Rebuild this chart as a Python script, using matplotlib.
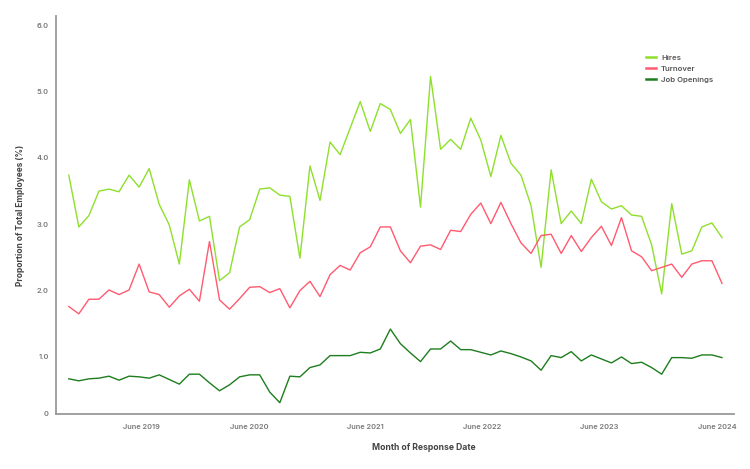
import numpy as np
import matplotlib
matplotlib.use("Agg")
import matplotlib.pyplot as plt

# monthly survey series (66 months)
hires = [3.74, 2.96, 3.13, 3.50, 3.53, 3.49, 3.74, 3.56, 3.84, 3.30,
         2.99, 2.40, 3.67, 3.05, 3.12, 2.15, 2.27, 2.96, 3.07, 3.53,
         3.55, 3.44, 3.42, 2.49, 3.88, 3.36, 4.24, 4.05, 4.45, 4.85,
         4.40, 4.82, 4.73, 4.37, 4.58, 3.26, 5.23, 4.13, 4.28, 4.13,
         4.60, 4.27, 3.72, 4.34, 3.92, 3.74, 3.28, 2.35, 3.82, 3.01,
         3.20, 3.01, 3.68, 3.34, 3.23, 3.28, 3.14, 3.12, 2.69, 1.95,
         3.31, 2.55, 2.60, 2.96, 3.02, 2.80]
turnover = [1.76, 1.65, 1.87, 1.87, 2.01, 1.94, 2.01, 2.40, 1.98, 1.94,
            1.75, 1.92, 2.02, 1.84, 2.74, 1.86, 1.72, 1.88, 2.05, 2.06,
            1.97, 2.03, 1.74, 2.00, 2.14, 1.91, 2.24, 2.38, 2.31, 2.57,
            2.66, 2.96, 2.96, 2.60, 2.42, 2.67, 2.69, 2.62, 2.91, 2.89,
            3.15, 3.32, 3.01, 3.33, 3.01, 2.72, 2.56, 2.83, 2.85, 2.56,
            2.83, 2.59, 2.80, 2.97, 2.68, 3.10, 2.60, 2.51, 2.30, 2.35,
            2.40, 2.20, 2.40, 2.45, 2.45, 2.11]
job_openings = [0.67, 0.64, 0.67, 0.68, 0.71, 0.65, 0.71, 0.70, 0.68, 0.73,
                0.66, 0.59, 0.74, 0.74, 0.61, 0.49, 0.58, 0.70, 0.73, 0.73,
                0.47, 0.31, 0.71, 0.70, 0.84, 0.88, 1.02, 1.02, 1.02, 1.07,
                1.06, 1.12, 1.42, 1.20, 1.06, 0.93, 1.12, 1.12, 1.24, 1.11,
                1.11, 1.07, 1.03, 1.09, 1.05, 1.00, 0.94, 0.80, 1.02, 0.99,
                1.08, 0.94, 1.03, 0.97, 0.91, 1.00, 0.90, 0.92, 0.84, 0.74,
                0.99, 0.99, 0.98, 1.03, 1.03, 0.99]

x_tick_labels = ["June 2019", "June 2020", "June 2021",
                 "June 2022", "June 2023", "June 2024"]
y_tick_labels = ["0", "1.0", "2.0", "3.0", "4.0", "5.0", "6.0"]

plt.rcParams["font.family"] = ["Inter", "DejaVu Sans"]

fig = plt.figure(figsize=(7.5, 4.69), dpi=100)
ax = fig.add_axes([0.0743, 0.1173, 0.9044, 0.8486])

months = np.arange(len(hires))
ax.plot(months, hires, color="#8EE02B", lw=1.0, label="Hires")
ax.plot(months, turnover, color="#FF5A70", lw=1.0, label="Turnover")
ax.plot(months, job_openings, color="#1E7D1E", lw=1.0, label="Job Openings")

ax.set_xlim(-1.3, 66.2)
ax.set_ylim(0.14, 6.14)

ax.set_xticks([7.2, 17.96, 29.56, 41.15, 52.8, 64.5])
ax.set_xticklabels(x_tick_labels)
ax.set_yticks([0.14, 1, 2, 3, 4, 5, 6])
ax.set_yticklabels(y_tick_labels)
ax.tick_params(length=0, labelsize=5.3, labelcolor="#777777")
ax.tick_params(axis="x", pad=7.5)
ax.tick_params(axis="y", pad=5)
for lab in ax.get_xticklabels() + ax.get_yticklabels():
    lab.set_fontweight("semibold")

for side in ["top", "right"]:
    ax.spines[side].set_visible(False)
for side in ["left", "bottom"]:
    ax.spines[side].set_color("#999999")
    ax.spines[side].set_linewidth(1.3)

ax.set_ylabel("Proportion of Total Employees (%)", fontsize=6.0,
              fontweight="bold", color="#444444")
ax.yaxis.set_label_coords(-0.046, 0.5)
fig.text(424 / 750, 1 - 447 / 469, "Month of Response Date", fontsize=6.2,
         fontweight="bold", color="#444444", ha="center", va="center")

leg = ax.legend(loc="upper left", bbox_to_anchor=(0.866, 0.912), frameon=False,
                fontsize=5.6, handlelength=1.3, handletextpad=0.6,
                labelspacing=0.62, borderaxespad=0)
for h in leg.get_lines():
    h.set_linewidth(1.8)
for t in leg.get_texts():
    t.set_color("#555555")
    t.set_fontweight("semibold")

fig.savefig("out.png", dpi=100)
